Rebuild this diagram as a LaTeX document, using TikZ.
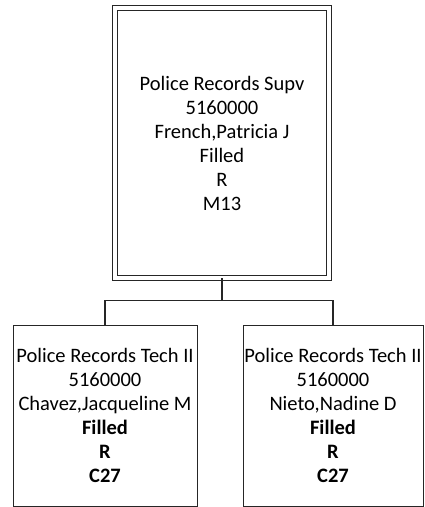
\documentclass[tikz,border=0pt]{standalone}
\usepackage{fontspec}
\setmainfont{Carlito}
\tikzset{
  postbox/.style={draw=black!85, thin, align=center, inner sep=0pt, font=\fontsize{20.5}{24}\selectfont},
  chief/.style={postbox, double, double distance=4pt, line width=0.8pt, minimum width=214pt, minimum height=270pt},
  staff/.style={postbox, minimum height=181pt},
  link/.style={draw=black!85, line width=1.3pt}
}
\begin{document}
\begin{tikzpicture}[x=1pt, y=1pt]
      \useasboundingbox (0,0) rectangle (424,507);
      % Supervisor
      \node[chief] (supv) at (222,364) {Police Records Supv\\5160000\\French,Patricia J\\Filled\\R\\M13};
      % Technicians
      \node[staff, minimum width=184pt] (techA) at (105,91.5) {Police Records Tech II\\5160000\\Chavez,Jacqueline M\\\textbf{Filled}\\\textbf{R}\\\textbf{C27}};
      \node[staff, minimum width=180pt] (techB) at (333,91.5) {Police Records Tech II\\5160000\\Nieto,Nadine D\\\textbf{Filled}\\\textbf{R}\\\textbf{C27}};
      \draw[link] (supv.south) -- ++(0,-22) coordinate (bus) -| (techA.north);
      \draw[link] (bus) -| (techB.north);
    \end{tikzpicture}
\end{document}
